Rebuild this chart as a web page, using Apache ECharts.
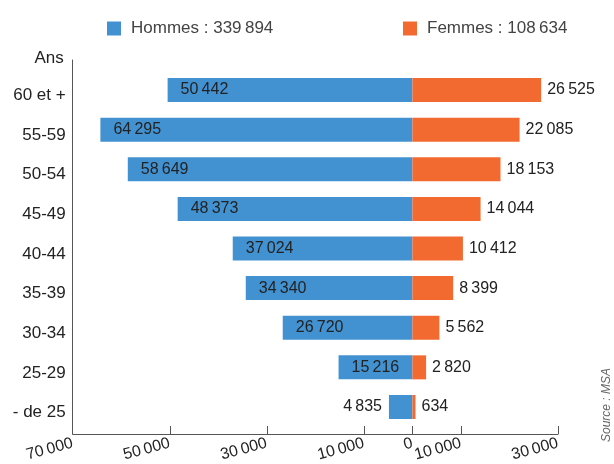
<!DOCTYPE html>
<html>
<head>
<meta charset="utf-8">
<script src="https://cdn.jsdelivr.net/npm/echarts@6/dist/echarts.min.js"></script>
<style>
html,body{margin:0;padding:0;background:#fff;}
#chart{width:614px;height:464px;}
</style>
</head>
<body>
<div id="chart"></div>
<script>
// Data (top to bottom as displayed)
var categories = ['60 et +', '55-59', '50-54', '45-49', '40-44', '35-39', '30-34', '25-29', '- de 25'];
var hommes = [50442, 64295, 58649, 48373, 37024, 34340, 26720, 15216, 4835];
var femmes = [26525, 22085, 18153, 14044, 10412, 8399, 5562, 2820, 634];
var xTickValues = [-70000, -50000, -30000, -10000, 0, 10000, 30000];
var seriesNames = ['Hommes', 'Femmes'];
var axisName = 'Ans';
var sourceText = 'Source : MSA';

function fmt(n) {
  return String(Math.abs(n)).replace(/\B(?=(\d{3})+(?!\d))/g, '\u2009');
}
function sum(a) { return a.reduce(function (s, v) { return s + v; }, 0); }

var FONT = '"Liberation Sans", Arial, Helvetica, sans-serif';
var BLUE = '#4292d2', ORANGE = '#f26a30', TXT = '#222222';

var totals = { Hommes: sum(hommes), Femmes: sum(femmes) };

var hommesData = hommes.map(function (v) {
  var item = { value: -v };
  if (v < 10000) {
    item.label = { position: 'left', distance: 7 };
  }
  return item;
});

var chart = echarts.init(document.getElementById('chart'), null, { renderer: 'canvas' });
var GRID_LEFT = 72.7, GRID_RIGHT = 56;

var option = {
  animation: false,
  textStyle: { fontFamily: FONT },
  legend: [
    {
      data: [seriesNames[0]], left: 102, top: 15,
      itemWidth: 14, itemHeight: 14, icon: 'rect',
      textStyle: { fontFamily: FONT, fontSize: 17, color: '#444', padding: [0, 0, 0, 5] },
      formatter: function (n) { return n + ' : ' + fmt(totals[n]); }
    },
    {
      data: [seriesNames[1]], left: 398, top: 15,
      itemWidth: 14, itemHeight: 14, icon: 'rect',
      textStyle: { fontFamily: FONT, fontSize: 17, color: '#444', padding: [0, 0, 0, 5] },
      formatter: function (n) { return n + ' : ' + fmt(totals[n]); }
    }
  ],
  grid: [
    { left: GRID_LEFT, right: GRID_RIGHT, top: 70.2, height: 356.6 },
    { left: GRID_LEFT, right: GRID_RIGHT, top: 60, bottom: 30 }
  ],
  xAxis: [
    { type: 'value', gridIndex: 0, min: -70000, max: 30000, show: false },
    {
      type: 'value', gridIndex: 1, min: -70000, max: 30000, interval: 10000,
      axisLine: { show: true, onZero: false, lineStyle: { color: '#555', width: 1 } },
      axisTick: { show: true, inside: true, length: 8, lineStyle: { color: '#555' }, customValues: xTickValues },
      axisLabel: {
        rotate: 15, margin: 9, fontSize: 16, color: TXT, fontFamily: FONT,
        customValues: xTickValues,
        formatter: function (v) { return fmt(v); }
      },
      splitLine: { show: false }
    }
  ],
  yAxis: [
    {
      type: 'category', gridIndex: 0, inverse: true, data: categories,
      axisLine: { show: false }, axisTick: { show: false },
      axisLabel: { fontSize: 17, color: TXT, margin: 7, fontFamily: FONT, verticalAlign: 'top', lineHeight: 11 }
    },
    {
      type: 'value', gridIndex: 1, min: 0, max: 1,
      axisLine: { show: true, onZero: false, lineStyle: { color: '#555', width: 1 } },
      axisTick: { show: false }, axisLabel: { show: false }, splitLine: { show: false },
      name: axisName, nameLocation: 'end', nameGap: 1.5,
      nameTextStyle: { fontSize: 17, color: TXT, fontFamily: FONT, align: 'right', verticalAlign: 'middle', padding: [0, 9, 0, 0] }
    }
  ],
  series: [
    {
      name: seriesNames[0], type: 'bar', xAxisIndex: 0, yAxisIndex: 0,
      data: hommesData, barWidth: 24, barGap: '-100%',
      itemStyle: { color: BLUE },
      label: {
        show: true, position: 'insideLeft', distance: 13,
        color: TXT, fontSize: 16, fontFamily: FONT,
        formatter: function (p) { return fmt(p.value); }
      }
    },
    {
      name: seriesNames[1], type: 'bar', xAxisIndex: 0, yAxisIndex: 0,
      data: femmes, barWidth: 24, barGap: '-100%',
      itemStyle: { color: ORANGE },
      label: {
        show: true, position: 'right', distance: 6,
        color: TXT, fontSize: 16, fontFamily: FONT,
        formatter: function (p) { return fmt(p.value); }
      }
    }
  ],
  graphic: [
    {
      type: 'text', x: 607, y: 405, rotation: Math.PI / 2,
      style: {
        text: sourceText, fill: '#666', font: 'italic 12px ' + FONT,
        textAlign: 'center', textVerticalAlign: 'middle'
      }
    }
  ]
};
chart.setOption(option);
</script>
</body>
</html>
